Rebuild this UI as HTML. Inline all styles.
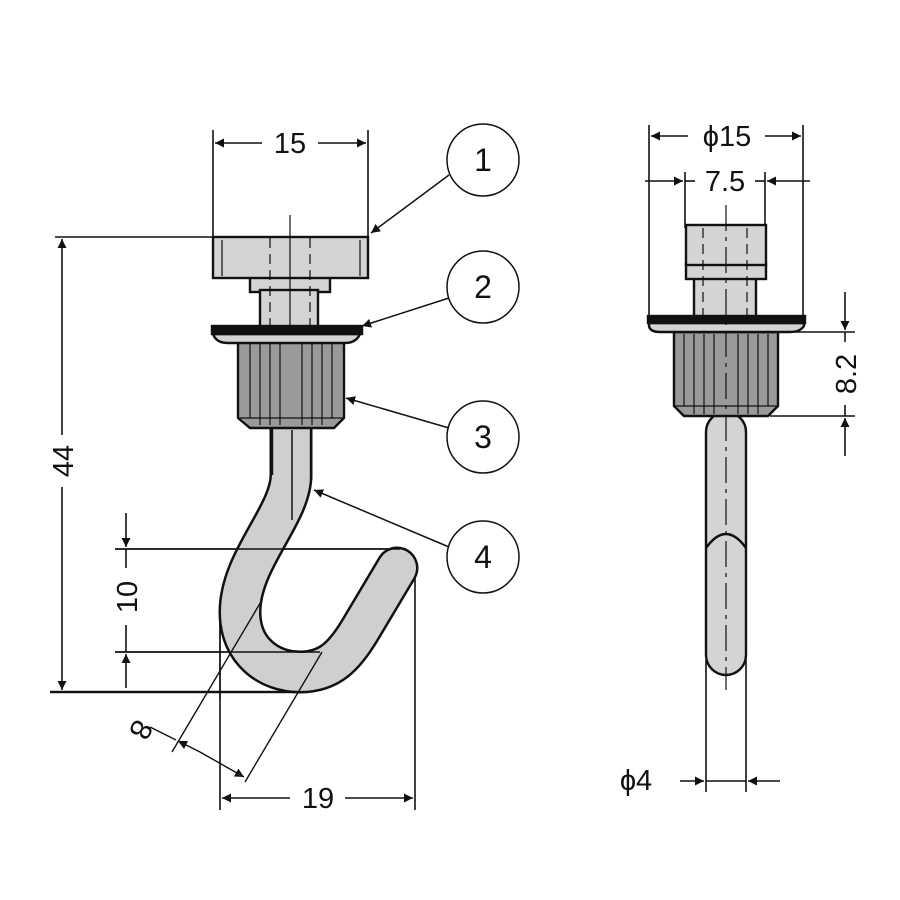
<!DOCTYPE html>
<html><head><meta charset="utf-8"><style>html,body{margin:0;padding:0;background:#fff}svg{display:block}text{font-family:"Liberation Sans",sans-serif;font-size:29px;fill:#111}</style></head>
<body>
<svg width="900" height="900" viewBox="0 0 900 900" xmlns="http://www.w3.org/2000/svg">
<defs>
<marker id="a" viewBox="0 0 10 10" refX="10" refY="5" markerWidth="14" markerHeight="9" markerUnits="userSpaceOnUse" orient="auto"><path d="M0,0L10,5L0,10z" fill="#111"/></marker>
</defs>
<g stroke="#111" stroke-width="1.6" fill="none">
<line x1="213" y1="130" x2="213" y2="240"/><line x1="368" y1="130" x2="368" y2="240"/>
<line x1="262" y1="143" x2="215" y2="143" marker-end="url(#a)"/><line x1="318" y1="143" x2="366" y2="143" marker-end="url(#a)"/>
<line x1="55" y1="237" x2="215" y2="237"/><line x1="50" y1="692" x2="305" y2="692" stroke-width="2.2"/>
<line x1="62" y1="435" x2="62" y2="239" marker-end="url(#a)"/><line x1="62" y1="487" x2="62" y2="690" marker-end="url(#a)"/>
<line x1="115" y1="549" x2="400" y2="549"/><line x1="115" y1="652" x2="320" y2="652"/>
<line x1="126" y1="513" x2="126" y2="547" marker-end="url(#a)"/><line x1="126" y1="688" x2="126" y2="654" marker-end="url(#a)"/>
<line x1="126" y1="549" x2="126" y2="568"/><line x1="126" y1="625" x2="126" y2="652"/>
<line x1="220" y1="612" x2="220" y2="810"/><line x1="415" y1="575" x2="415" y2="810"/>
</g>
<path d="M291,428 L291,475 C291,515 240,560 240,612 C240,652 270,672 300,672 C330,672 345,655 360,630 L397,568" fill="none" stroke="#111" stroke-width="43" stroke-linecap="round" stroke-linejoin="round"/>
<path d="M291,428 L291,475 C291,515 240,560 240,612 C240,652 270,672 300,672 C330,672 345,655 360,630 L397,568" fill="none" stroke="#cfcfcf" stroke-width="38" stroke-linecap="round" stroke-linejoin="round"/>
<rect x="272" y="420" width="40" height="12" fill="#cfcfcf"/>
<line x1="272" y1="428" x2="272" y2="475" stroke="#111" stroke-width="2.4"/><line x1="311" y1="428" x2="311" y2="480" stroke="#111" stroke-width="2.4"/>
<line x1="292" y1="430" x2="292" y2="520" stroke="#111" stroke-width="1.5"/>
<g stroke="#111" stroke-width="1.4" fill="none">
<line x1="115" y1="549" x2="400" y2="549"/><line x1="115" y1="652" x2="320" y2="652"/>
<line x1="50" y1="692" x2="305" y2="692" stroke-width="2.2"/>
<line x1="220" y1="612" x2="220" y2="700"/>
<line x1="262" y1="600" x2="172" y2="752"/><line x1="322" y1="652" x2="245" y2="782"/>
<line x1="150" y1="727" x2="176" y2="740"/>
<line x1="200" y1="752" x2="178" y2="741" marker-end="url(#a)"/><line x1="200" y1="752" x2="244" y2="777" marker-end="url(#a)"/>
<line x1="290" y1="798" x2="222" y2="798" marker-end="url(#a)"/><line x1="345" y1="798" x2="413" y2="798" marker-end="url(#a)"/>
</g>
<g stroke="#111" stroke-width="2.4">
<rect x="250" y="276" width="80" height="16" fill="#d4d4d4"/>
<rect x="260" y="290" width="58" height="38" fill="#d4d4d4"/>
<rect x="213" y="237" width="155" height="41" fill="#d4d4d4"/>
<path d="M238,342 H344 V418 L334,428 H250 L238,418 Z" fill="#9a9a9a"/>
<path d="M213,334 H360 Q356,343 345,343 H228 Q216,343 213,334 Z" fill="#d4d4d4"/>
<rect x="212" y="326" width="150" height="8" fill="#111"/>
</g>
<g stroke="#111" stroke-width="1.2">
<line x1="250" y1="344" x2="250" y2="418"/><line x1="260" y1="344" x2="260" y2="425"/><line x1="270" y1="344" x2="270" y2="425"/><line x1="280" y1="344" x2="280" y2="425"/><line x1="302" y1="344" x2="302" y2="425"/><line x1="312" y1="344" x2="312" y2="425"/><line x1="322" y1="344" x2="322" y2="425"/><line x1="332" y1="344" x2="332" y2="418"/>
<line x1="238" y1="418" x2="344" y2="418"/>
<line x1="222" y1="240" x2="222" y2="276"/><line x1="360" y1="240" x2="360" y2="276"/>
<line x1="270" y1="238" x2="270" y2="326" stroke-dasharray="10,6"/><line x1="310" y1="238" x2="310" y2="326" stroke-dasharray="10,6"/>
<line x1="290" y1="215" x2="290" y2="330"/>
</g>
<g stroke="#111" stroke-width="1.5" fill="#fff">
<circle cx="483" cy="160" r="36"/><circle cx="483" cy="287" r="36"/><circle cx="483" cy="437" r="36"/><circle cx="483" cy="557" r="36"/>
</g>
<g stroke="#111" stroke-width="1.5">
<line x1="449" y1="175" x2="371" y2="233" marker-end="url(#a)"/>
<line x1="449" y1="298" x2="362" y2="326" marker-end="url(#a)"/>
<line x1="449" y1="428" x2="346" y2="398" marker-end="url(#a)"/>
<line x1="449" y1="547" x2="314" y2="490" marker-end="url(#a)"/>
</g>
<g text-anchor="middle">
<text x="483" y="171" style="font-size:32px">1</text><text x="483" y="298" style="font-size:32px">2</text><text x="483" y="448" style="font-size:32px">3</text><text x="483" y="568" style="font-size:32px">4</text>
</g>
<text x="290" y="153" text-anchor="middle">15</text>
<text x="318" y="808" text-anchor="middle">19</text>
<text transform="translate(73,461) rotate(-90)" text-anchor="middle">44</text>
<text transform="translate(137,597) rotate(-90)" text-anchor="middle">10</text>
<text transform="translate(132,725) rotate(118)" text-anchor="middle" style="font-size:30px">8</text>

<g stroke="#111" stroke-width="1.6" fill="none">
<line x1="649" y1="125" x2="649" y2="320"/><line x1="803" y1="125" x2="803" y2="320"/>
<line x1="688" y1="136" x2="651" y2="136" marker-end="url(#a)"/><line x1="765" y1="136" x2="801" y2="136" marker-end="url(#a)"/>
<line x1="685" y1="172" x2="685" y2="228"/><line x1="765" y1="172" x2="765" y2="228"/>
<line x1="645" y1="181" x2="683" y2="181" marker-end="url(#a)"/><line x1="810" y1="181" x2="767" y2="181" marker-end="url(#a)"/>
<line x1="685" y1="181" x2="695" y2="181"/><line x1="755" y1="181" x2="765" y2="181"/>
<line x1="706" y1="660" x2="706" y2="792"/><line x1="746" y1="660" x2="746" y2="792"/>
<line x1="680" y1="781" x2="704" y2="781" marker-end="url(#a)"/><line x1="780" y1="781" x2="748" y2="781" marker-end="url(#a)"/>
<line x1="706" y1="781" x2="746" y2="781"/>
<line x1="780" y1="332" x2="855" y2="332"/><line x1="770" y1="416" x2="855" y2="416"/>
<line x1="845" y1="292" x2="845" y2="330" marker-end="url(#a)"/><line x1="845" y1="456" x2="845" y2="418" marker-end="url(#a)"/>
<line x1="845" y1="332" x2="845" y2="342"/><line x1="845" y1="405" x2="845" y2="416"/>
</g>
<g stroke="#111" stroke-width="2.4">
<rect x="706" y="412" width="40" height="263" rx="20" fill="#d4d4d4"/>
<path d="M706,548 Q726,520 746,548" fill="none"/>
<rect x="694" y="278" width="62" height="40" fill="#d4d4d4"/>
<rect x="686" y="264" width="80" height="15" fill="#d4d4d4"/>
<rect x="686" y="225" width="80" height="40" fill="#d4d4d4"/>
<path d="M674,332 H778 V406 L768,416 H684 L674,406 Z" fill="#9a9a9a"/>
<path d="M649,323 H804 V326 Q800,332 790,332 H660 Q650,332 649,326 Z" fill="#d4d4d4"/>
<rect x="648" y="316" width="157" height="7" fill="#111"/>
</g>
<g stroke="#111" stroke-width="1.2">
<line x1="684" y1="334" x2="684" y2="406"/><line x1="694" y1="334" x2="694" y2="414"/><line x1="704" y1="334" x2="704" y2="414"/><line x1="714" y1="334" x2="714" y2="414"/><line x1="738" y1="334" x2="738" y2="414"/><line x1="748" y1="334" x2="748" y2="414"/><line x1="758" y1="334" x2="758" y2="414"/><line x1="768" y1="334" x2="768" y2="406"/>
<line x1="674" y1="406" x2="778" y2="406"/>
<line x1="703" y1="228" x2="703" y2="316" stroke-dasharray="10,6"/><line x1="747" y1="228" x2="747" y2="316" stroke-dasharray="10,6"/>
<line x1="726" y1="205" x2="726" y2="690" stroke-dasharray="26,6,4,6"/>
</g>
<text x="727" y="146" text-anchor="middle">ϕ15</text>
<text x="725" y="191" text-anchor="middle">7.5</text>
<text x="636" y="790" text-anchor="middle">ϕ4</text>
<text transform="translate(856,374) rotate(-90)" text-anchor="middle">8.2</text>
</svg>
</body></html>
